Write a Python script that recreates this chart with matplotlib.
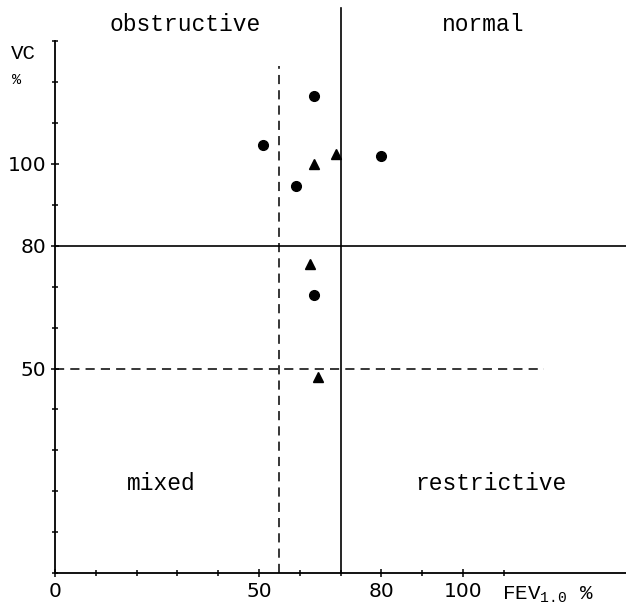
import matplotlib.pyplot as plt
from matplotlib.ticker import FixedLocator, MultipleLocator

# datos
circ_fev = [51, 63.5, 59, 80, 63.5]
circ_vc = [104.5, 116.5, 94.5, 102, 68]
tri_fev = [63.5, 69, 62.5, 64.5]
tri_vc = [100, 102.5, 75.5, 48]

xticks = [0, 50, 80, 100]
yticks = [50, 80, 100]
xminor = [10, 20, 30, 40, 60, 70, 90, 110]

mono = 'Liberation Mono'

fig = plt.figure(figsize=(6.26, 6.04), dpi=100)
ax = fig.add_axes([0.088, 0.051, 0.912, 0.881])
ax.set_xlim(0, 140)
ax.set_ylim(0, 130)

# lineas de division
ax.axhline(80, color='black', lw=1.2)
ax.plot([70, 70], [0, 138], color='black', lw=1.2, clip_on=False)
ax.plot([0, 120], [50, 50], color='black', lw=1.1, ls=(0, (6, 4)))
ax.plot([55, 55], [0, 124], color='black', lw=1.1, ls=(0, (6, 4)))

# puntos
ax.plot(circ_fev, circ_vc, 'o', color='black', ms=7, ls='none')
ax.plot(tri_fev, tri_vc, '^', color='black', ms=7.5, ls='none')

# textos de las regiones
ax.text(32, 134, 'obstructive', family=mono, fontsize=16.5, ha='center', va='center', clip_on=False)
ax.text(105, 134, 'normal', family=mono, fontsize=16.5, ha='center', va='center', clip_on=False)
ax.text(26, 22, 'mixed', family=mono, fontsize=16.5, ha='center', va='center')
ax.text(107, 22, 'restrictive', family=mono, fontsize=16.5, ha='center', va='center')

# ejes
for s in ['top', 'right']:
    ax.spines[s].set_visible(False)
ax.spines['left'].set_linewidth(1.3)
ax.spines['bottom'].set_linewidth(1.3)
ax.xaxis.set_major_locator(FixedLocator(xticks))
ax.yaxis.set_major_locator(FixedLocator(yticks))
ax.xaxis.set_minor_locator(FixedLocator(xminor))
ax.yaxis.set_minor_locator(MultipleLocator(10))
ax.tick_params(which='both', direction='inout', width=1.1, labelsize=14.5)
ax.tick_params(which='major', length=6)
ax.tick_params(which='minor', length=4)
ax.set_xticklabels([str(t) for t in xticks])
ax.set_yticklabels([str(t) for t in yticks])

fig.text(0.038, 0.912, 'VC', family=mono, fontsize=15, ha='center', va='center')
fig.text(0.026, 0.868, '%', family=mono, fontsize=11, ha='center', va='center')
ax.annotate(r'FEV$_{\mathregular{1.0}}$ %', xy=(110, 0), xycoords='data',
            xytext=(-1, -8), textcoords='offset points', family=mono,
            fontsize=15, ha='left', va='top')

plt.savefig('out.png', dpi=100)
